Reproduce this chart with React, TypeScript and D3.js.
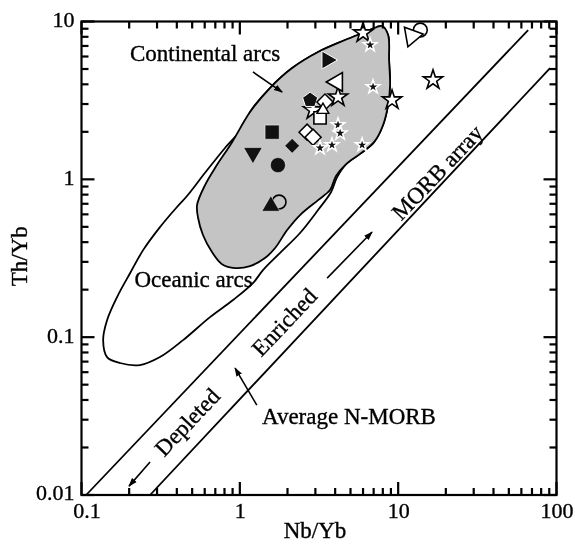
import React, { useEffect, useRef } from 'react';
import * as d3 from 'd3';

// Th/Yb vs Nb/Yb (Pearce-type MORB array diagram)

const xMajorTicks = [0.1, 1, 10, 100];
const xTickLabels = ['0.1', '1', '10', '100'];
const yMajorTicks = [0.01, 0.1, 1, 10];
const yTickLabels = ['0.01', '0.1', '1', '10'];
const minorSteps = [2, 3, 4, 5, 6, 7, 8, 9];

// MORB array bounding lines
const morbUpperNb = [0.107, 66.2];
const morbUpperTh = [0.01, 8.83];
const morbLowerNb = [0.271, 91.1];
const morbLowerTh = [0.01, 5.07];

// continental arcs field (shaded)
const continentalNb = [7.91, 8.64, 8.76, 8.89, 8.64, 8.03, 7.04, 5.74, 4.69, 4.05, 3.71, 3.12, 2.4, 1.99, 1.67, 1.44, 1.16, 0.933, 0.772, 0.667, 0.585, 0.545, 0.537, 0.603, 0.697, 0.893, 1.16, 1.55, 2.14, 3.12, 4.62, 6.18, 7.36];
const continentalTh = [9.37, 8.21, 5.7, 3.96, 2.96, 2.21, 1.72, 1.45, 1.25, 1.05, 0.855, 0.739, 0.594, 0.477, 0.367, 0.317, 0.282, 0.274, 0.29, 0.346, 0.444, 0.569, 0.688, 0.92, 1.18, 1.72, 2.67, 3.79, 5.07, 6.41, 7.63, 8.58, 9.23];

// oceanic arcs field (outline)
const oceanicNb = [1.079, 1.16, 1.55, 2.14, 3.12, 4.62, 6.18, 7.36, 7.91, 8.64, 8.76, 8.89, 8.64, 8.03, 7.04, 5.74, 4.69, 4.11, 3.77, 3.12, 2.4, 1.79, 1.4, 1.21, 0.906, 0.648, 0.438, 0.313, 0.234, 0.175, 0.145, 0.137, 0.145, 0.168, 0.203, 0.245, 0.313, 0.401, 0.464, 0.603, 0.806];
const oceanicTh = [2.21, 2.67, 3.79, 5.07, 6.41, 7.63, 8.58, 9.23, 9.37, 8.21, 5.7, 3.96, 2.96, 2.21, 1.72, 1.45, 1.25, 1.03, 0.831, 0.639, 0.457, 0.341, 0.266, 0.22, 0.172, 0.134, 0.0958, 0.0748, 0.0666, 0.0686, 0.0748, 0.0958, 0.128, 0.18, 0.255, 0.356, 0.498, 0.668, 0.784, 1.1, 1.58];

// samples, one pair of arrays per symbol
const filledStarNb = [6.65, 6.94, 4.17, 4.3, 3.82, 3.21, 5.92];
const filledStarTh = [7.1, 3.85, 2.21, 1.96, 1.65, 1.58, 1.65];
const openStarNb = [6.0, 4.17, 2.9, 16.6, 9.15];
const openStarTh = [8.46, 3.32, 2.75, 4.26, 3.18];
const triRightFilledNb = [3.56];
const triRightFilledTh = [5.7];
const triLeftOpenNb = [4.11];
const triLeftOpenTh = [4.14];
const pentagonNb = [2.78];
const pentagonTh = [3.18];
const diamondOpenNb = [3.45, 2.66, 2.9];
const diamondOpenTh = [3.09, 1.99, 1.85];
const squareOpenNb = [3.21];
const squareOpenTh = [2.45];
const triUpOpenNb = [3.35];
const triUpOpenTh = [2.75];
const squareFilledNb = [1.6];
const squareFilledTh = [1.99];
const diamondFilledNb = [2.14];
const diamondFilledTh = [1.63];
const triDownFilledNb = [1.21];
const triDownFilledTh = [1.47];
const circleFilledNb = [1.74];
const circleFilledTh = [1.23];
const triUpFilledNb = [1.57];
const triUpFilledTh = [0.677];
const circleOpenNb = [1.77, 13.8];
const circleOpenTh = [0.718, 8.83];
const triDownOpenNb = [12.2];
const triDownOpenTh = [8.09];

const pentagon = {
	draw(context, size) {
		const r = Math.sqrt(size / 2.3776);
		for (let i = 0; i < 5; i++) {
			const a = -Math.PI / 2 + (i * 2 * Math.PI) / 5;
			if (i === 0) context.moveTo(r * Math.cos(a), r * Math.sin(a));
			else context.lineTo(r * Math.cos(a), r * Math.sin(a));
		}
		context.closePath();
	}
};

const series = [
	{ nb: openStarNb, th: openStarTh, type: d3.symbolStar, size: 115, rot: 0, fill: '#fff', stroke: '#000', sw: 1.6 },
	{ nb: triRightFilledNb, th: triRightFilledTh, type: d3.symbolTriangle, size: 140, rot: 90, fill: '#111', stroke: '#fff', sw: 1 },
	{ nb: triLeftOpenNb, th: triLeftOpenTh, type: d3.symbolTriangle, size: 150, rot: -90, fill: '#fff', stroke: '#000', sw: 1.6 },
	{ nb: pentagonNb, th: pentagonTh, type: pentagon, size: 150, rot: 0, fill: '#111', stroke: '#fff', sw: 1 },
	{ nb: diamondOpenNb, th: diamondOpenTh, type: d3.symbolSquare, size: 130, rot: 45, fill: '#fff', stroke: '#000', sw: 1.5 },
	{ nb: squareOpenNb, th: squareOpenTh, type: d3.symbolSquare, size: 150, rot: 0, fill: '#fff', stroke: '#000', sw: 1.6 },
	{ nb: triUpOpenNb, th: triUpOpenTh, type: d3.symbolTriangle, size: 60, rot: 0, fill: '#fff', stroke: '#000', sw: 1.4 },
	{ nb: squareFilledNb, th: squareFilledTh, type: d3.symbolSquare, size: 200, rot: 0, fill: '#111', stroke: '#fff', sw: 0.5 },
	{ nb: diamondFilledNb, th: diamondFilledTh, type: d3.symbolSquare, size: 110, rot: 45, fill: '#111', stroke: '#fff', sw: 0.5 },
	{ nb: triDownFilledNb, th: triDownFilledTh, type: d3.symbolTriangle, size: 150, rot: 180, fill: '#111', stroke: '#fff', sw: 0.5 },
	{ nb: circleFilledNb, th: circleFilledTh, type: d3.symbolCircle, size: 180, rot: 0, fill: '#111', stroke: '#fff', sw: 0.5 },
	{ nb: circleOpenNb, th: circleOpenTh, type: d3.symbolCircle, size: 150, rot: 0, fill: 'none', stroke: '#000', sw: 1.6 },
	{ nb: triUpFilledNb, th: triUpFilledTh, type: d3.symbolTriangle, size: 140, rot: 0, fill: '#111', stroke: '#fff', sw: 0.5 },
	{ nb: triDownOpenNb, th: triDownOpenTh, type: d3.symbolTriangle, size: 170, rot: 200, fill: '#fff', stroke: '#000', sw: 1.6 },
	{ nb: filledStarNb, th: filledStarTh, type: d3.symbolStar, size: 55, rot: 0, fill: '#111', stroke: '#fff', sw: 1.6 }
];

// annotations, in data units
const labels = [
	{ text: 'Continental arcs', nb: 0.603, th: 5.62, rot: 0, anchor: 'middle' },
	{ text: 'Oceanic arcs', nb: 0.51, th: 0.2077, rot: 0, anchor: 'middle' },
	{ text: 'Average N-MORB', nb: 1.38, th: 0.0281, rot: 0, anchor: 'start' },
	{ text: 'Depleted', nb: 0.464, th: 0.029, rot: -46.5, anchor: 'middle' },
	{ text: 'Enriched', nb: 1.9, th: 0.1246, rot: -46.5, anchor: 'middle' },
	{ text: 'MORB array', nb: 17.6, th: 1.11, rot: -46.5, anchor: 'middle' }
];
const arrowNb = [[1.21, 1.85], [1.28, 0.933], [0.271, 0.1996], [3.56, 6.84]];
const arrowTh = [[4.79, 3.57], [0.0371, 0.0637], [0.01617, 0.01138], [0.2367, 0.4634]];

const W = 575;
const H = 549;
const margin = { top: 21.5, right: 18.5, bottom: 54, left: 81.5 };
const width = W - margin.left - margin.right;
const height = H - margin.top - margin.bottom;
const FONT = '"Liberation Serif", "Times New Roman", serif';

const x = d3.scaleLog().domain([0.1, 100]).range([0, width]);
const y = d3.scaleLog().domain([0.01, 10]).range([height, 0]);

const xMinor = xMajorTicks.slice(0, -1).flatMap(dec => minorSteps.map(m => m * dec));
const yMinor = yMajorTicks.slice(0, -1).flatMap(dec => minorSteps.map(m => m * dec));
const xTicks = [...xMajorTicks.map(v => [v, 13]), ...xMinor.map(v => [v, 7])];
const yTicks = [...yMajorTicks.map(v => [v, 13]), ...yMinor.map(v => [v, 7])];

const styleText = (sel, size) => sel
	.attr('font-family', FONT)
	.attr('font-size', size)
	.attr('fill', '#000')
	.attr('stroke', '#000')
	.attr('stroke-width', 0.35);

export default function App() {
	const node = useRef(null);

	useEffect(() => {
		const canvas = d3.select(node.current);
		canvas.selectAll('*').remove();

		canvas.append('defs').append('marker')
			.attr('id', 'arrowhead')
			.attr('viewBox', '0 0 10 10')
			.attr('refX', 9)
			.attr('refY', 5)
			.attr('markerWidth', 9)
			.attr('markerHeight', 9)
			.attr('markerUnits', 'userSpaceOnUse')
			.attr('orient', 'auto')
			.append('path')
			.attr('d', 'M0,1.5 L10,5 L0,8.5 z')
			.attr('fill', '#000');

		// Fields
		const area = d3.line()
			.x(d => x(d[0]))
			.y(d => y(d[1]))
			.curve(d3.curveCatmullRomClosed.alpha(0.5));

		canvas.append('path')
			.attr('d', area(oceanicNb.map((v, i) => [v, oceanicTh[i]])))
			.attr('fill', 'none')
			.attr('stroke', '#000')
			.attr('stroke-width', 1.8);

		canvas.append('path')
			.attr('d', area(continentalNb.map((v, i) => [v, continentalTh[i]])))
			.attr('fill', '#c4c4c4')
			.attr('stroke', '#000')
			.attr('stroke-width', 1.8);

		// MORB array lines
		const straight = d3.line().x(d => x(d[0])).y(d => y(d[1]));
		[[morbUpperNb, morbUpperTh], [morbLowerNb, morbLowerTh]].forEach(([nb, th]) => {
			canvas.append('path')
				.attr('d', straight(nb.map((v, i) => [v, th[i]])))
				.attr('fill', 'none')
				.attr('stroke', '#000')
				.attr('stroke-width', 1.8);
		});

		// Arrows
		arrowNb.forEach((nb, i) => {
			canvas.append('line')
				.attr('x1', x(nb[0]))
				.attr('y1', y(arrowTh[i][0]))
				.attr('x2', x(nb[1]))
				.attr('y2', y(arrowTh[i][1]))
				.attr('stroke', '#000')
				.attr('stroke-width', 1.6)
				.attr('marker-end', 'url(#arrowhead)');
		});

		// Labels
		labels.forEach((l) => {
			canvas.append('text')
				.attr('transform', `translate(${x(l.nb)},${y(l.th)}) rotate(${l.rot})`)
				.attr('text-anchor', l.anchor)
				.attr('dy', l.rot ? '0.35em' : 0)
				.text(l.text)
				.call(styleText, 23);
		});

		// Samples
		series.forEach((s) => {
			const path = d3.symbol().type(s.type).size(s.size)();
			canvas.append('g')
				.selectAll('path')
				.data(s.nb)
				.enter()
				.append('path')
				.attr('d', path)
				.attr('transform', (d, i) => `translate(${x(d)},${y(s.th[i])}) rotate(${s.rot})`)
				.attr('fill', s.fill)
				.attr('stroke', s.stroke)
				.attr('stroke-width', s.sw);
		});

		// Tick labels through d3 axes
		const bottom = canvas.append('g')
			.attr('transform', `translate(0,${height})`)
			.call(d3.axisBottom(x).tickValues(xMajorTicks).tickSize(0).tickPadding(7)
				.tickFormat((d, i) => xTickLabels[i]));
		bottom.select('.domain').remove();
		bottom.selectAll('text').call(styleText, 22);
		bottom.selectAll('text').filter((d, i) => i === 0).attr('dx', 5);

		const left = canvas.append('g')
			.call(d3.axisLeft(y).tickValues(yMajorTicks).tickSize(0).tickPadding(7)
				.tickFormat((d, i) => yTickLabels[i]));
		left.select('.domain').remove();
		left.selectAll('text').call(styleText, 22).attr('dy', '0.22em');

		// Axis titles
		canvas.append('text')
			.attr('x', width / 2 - 4)
			.attr('y', height + 43)
			.attr('text-anchor', 'middle')
			.text('Nb/Yb')
			.call(styleText, 23);

		canvas.append('text')
			.attr('transform', `translate(${-55},${height / 2 - 2}) rotate(-90)`)
			.attr('text-anchor', 'middle')
			.text('Th/Yb')
			.call(styleText, 23);
	}, []);

	return (
		<svg
			width={W}
			height={H}
			style={{ position: 'absolute', left: 0, top: 0, background: '#fff', willChange: 'transform' }}
		>
			<g transform={`translate(${margin.left},${margin.top})`}>
				<g ref={node} />
				{/* inward ticks on all four sides */}
				<g stroke="#000" strokeWidth={2.2}>
					{xTicks.map(([v, len], i) => (
						<g key={`x${i}`}>
							<line x1={x(v)} x2={x(v)} y1={height} y2={height - len} />
							<line x1={x(v)} x2={x(v)} y1={0} y2={len} />
						</g>
					))}
					{yTicks.map(([v, len], i) => (
						<g key={`y${i}`}>
							<line x1={0} x2={len} y1={y(v)} y2={y(v)} />
							<line x1={width} x2={width - len} y1={y(v)} y2={y(v)} />
						</g>
					))}
				</g>
				<rect width={width} height={height} fill="none" stroke="#000" strokeWidth={2.2} />
			</g>
		</svg>
	);
}
